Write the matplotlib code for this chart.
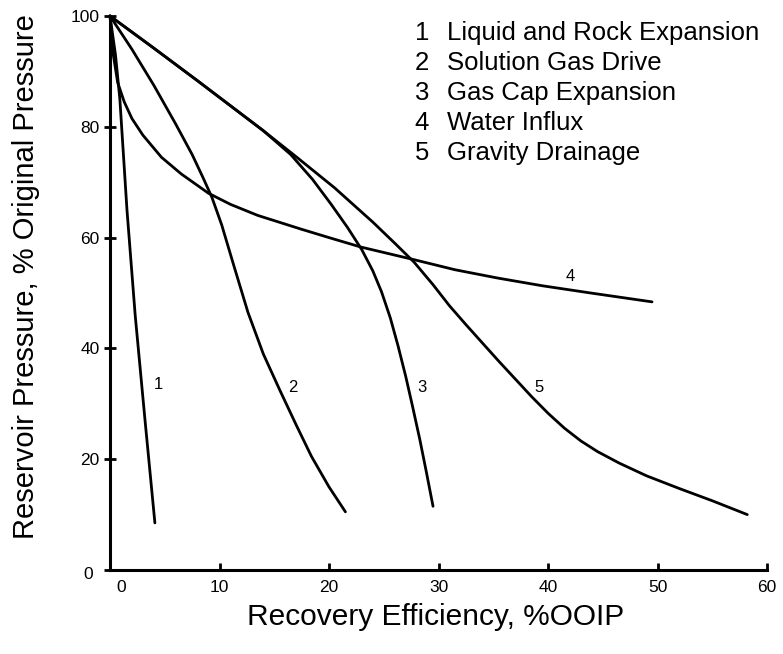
import matplotlib
matplotlib.use("Agg")
import matplotlib.pyplot as plt
from matplotlib.transforms import ScaledTranslation

plt.rcParams['font.family'] = ['Liberation Sans', 'DejaVu Sans']

# Recovery efficiency (%OOIP) vs reservoir pressure (% original) per drive mechanism
x1 = [0, 0.5, 0.9, 1.55, 2.3, 3.2, 4.1]
y1 = [100, 93, 85, 65, 46, 27, 8.5]

x2 = [0, 2, 4, 6, 7.5, 8.5, 9.3, 10.2, 11.3, 12.6, 14, 15.5, 17, 18.4, 20, 21.5]
y2 = [100, 94, 87.5, 80.5, 75, 70.8, 67.3, 62.3, 55, 46.5, 39, 32.5, 26.2, 20.5,
      15, 10.5]

x3 = [0, 4, 8, 11, 14, 16.5, 18.5, 20.2, 21.7, 23, 24, 24.8, 25.6, 26.3,
      27, 27.6, 28.3, 28.9, 29.5]
y3 = [100, 94.2, 88.3, 83.8, 79.3, 75, 70.5, 66, 61.8, 57.8, 54, 50.2,
      45.5, 40.5, 35, 29.8, 23.5, 17.6, 11.5]

x4 = [0, 0.3, 0.7, 1.3, 2, 3, 4.7, 6.5, 9, 11, 13.5, 17.5, 20, 22.9, 27.8,
      31.5, 35.4, 39.5, 43.9, 49.5]
y4 = [100, 93, 88, 84.5, 81.5, 78.5, 74.5, 71.5, 68, 66, 64, 61.5, 60, 58.3,
      56, 54.2, 52.7, 51.3, 50, 48.4]

x5 = [0, 4, 8, 11, 14, 17, 20.5, 24, 26, 27.8, 29.5, 31, 32.5, 34, 35.5, 37,
      38.5, 40, 41.5, 43, 44.5, 46.5, 49, 52, 55, 58.2]
y5 = [100, 94.2, 88.3, 83.8, 79.3, 74.6, 69, 62.8, 59, 55.5, 51.5, 47.7, 44.3,
      41, 37.7, 34.5, 31.3, 28.3, 25.6, 23.3, 21.4, 19.3, 17, 14.7, 12.5, 10]

curve_ids = ['1', '2', '3', '4', '5']
curve_names = ['Liquid and Rock Expansion', 'Solution Gas Drive',
               'Gas Cap Expansion', 'Water Influx', 'Gravity Drainage']
label_x = [4.4, 16.7, 28.5, 42.0, 39.2]
label_y = [33.5, 33, 33, 53, 33]

x_ticks = [0, 10, 20, 30, 40, 50, 60]
y_ticks = [0, 20, 40, 60, 80, 100]

fig = plt.figure(figsize=(7.83, 6.54), dpi=100)
ax = fig.add_axes([110 / 783, 84 / 654, 657 / 783, 554 / 654])

for xs, ys in [(x1, y1), (x2, y2), (x3, y3), (x4, y4), (x5, y5)]:
    ax.plot(xs, ys, color='black', lw=2.0, solid_capstyle='round',
            solid_joinstyle='round', clip_on=False)

for cid, lx, ly in zip(curve_ids, label_x, label_y):
    ax.text(lx, ly, cid, fontsize=12, ha='center', va='center')

ax.set_xlim(0, 60)
ax.set_ylim(0, 100)
ax.set_xticks(x_ticks)
ax.set_yticks(y_ticks)
ax.spines['top'].set_visible(False)
ax.spines['right'].set_visible(False)
for side in ('left', 'bottom'):
    ax.spines[side].set_linewidth(2.2)
ax.tick_params(axis='x', direction='in', length=5, width=2, pad=7, labelsize=12.5)
ax.tick_params(axis='y', direction='inout', length=9, width=2, pad=3, labelsize=12.5)

# nudge the two zero labels away from the corner
xt0 = ax.xaxis.get_major_ticks()[0].label1
xt0.set_transform(xt0.get_transform() + ScaledTranslation(0.11, 0, fig.dpi_scale_trans))
yt0 = ax.yaxis.get_major_ticks()[0].label1
yt0.set_transform(yt0.get_transform() + ScaledTranslation(-0.07, -0.03, fig.dpi_scale_trans))

ax.set_xlabel('Recovery Efficiency, %OOIP', fontsize=21.5, va='center')
ax.xaxis.set_label_coords(0.495, -0.084)
ax.set_ylabel('Reservoir Pressure, % Original Pressure', fontsize=21, va='center')
ax.yaxis.set_label_coords(-0.128, 0.53)

row_y = [33, 63, 93, 123, 153]
for cid, name, py in zip(curve_ids, curve_names, row_y):
    fig.text(422 / 783, 1 - py / 654, cid, fontsize=18.5, ha='center', va='center')
    fig.text(447 / 783, 1 - py / 654, name, fontsize=18.5, ha='left', va='center')

fig.savefig('out.png', dpi=100)
